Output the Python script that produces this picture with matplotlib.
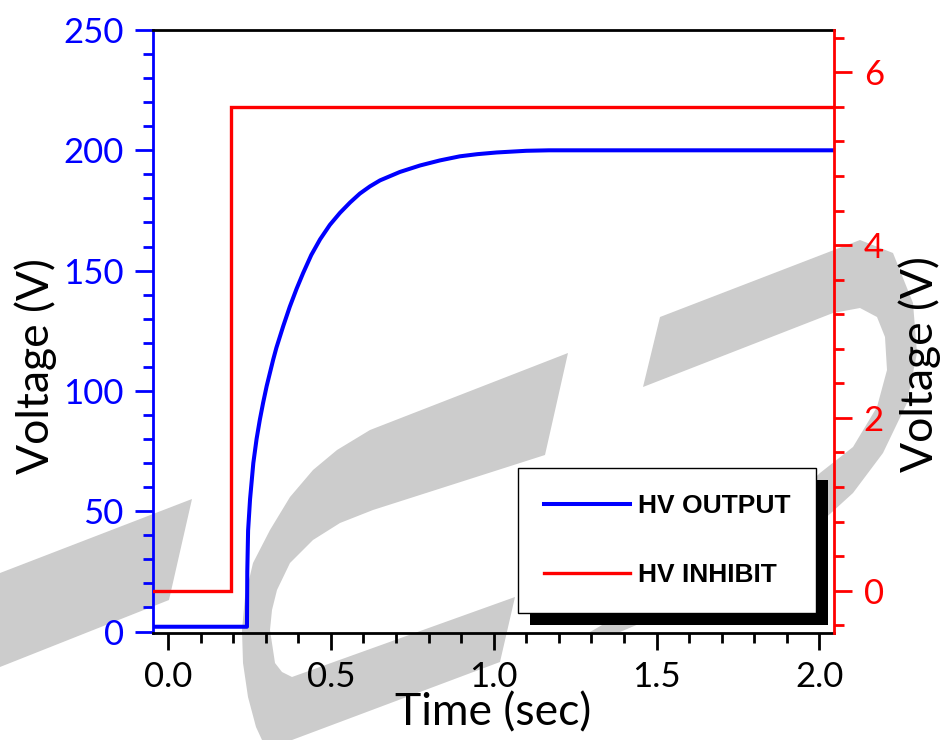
import matplotlib
matplotlib.use("Agg")
import matplotlib.pyplot as plt
from matplotlib.patches import Polygon, Rectangle
from matplotlib.ticker import MultipleLocator, FormatStrFormatter
from matplotlib.transforms import IdentityTransform

plt.rcParams['font.family'] = ['Lato', 'DejaVu Sans']
plt.rcParams['font.weight'] = 'normal'

# ---- data ----
hv_output_t = [-0.046, 0.2425, 0.2435, 0.246, 0.252, 0.262, 0.272, 0.282, 0.292,
               0.303, 0.323, 0.333, 0.354, 0.374, 0.395, 0.415, 0.440, 0.467,
               0.497, 0.528, 0.559, 0.589, 0.620, 0.651, 0.712, 0.774, 0.835,
               0.896, 0.95, 1.009, 1.10, 1.17, 2.045]
hv_output_v = [2, 2, 25, 42, 55, 70, 80, 88, 95,
               102, 113, 118, 127, 135, 142.5, 149, 156.5, 163,
               169, 174, 178.3, 182, 185, 187.5, 191, 193.7, 195.8,
               197.5, 198.4, 199.1, 199.8, 200, 200]

hv_inhibit_t = [-0.046, 0.1925, 0.1925, 2.045]
hv_inhibit_v = [0.0, 0.0, 5.6, 5.6]

x_ticks = [0.0, 0.5, 1.0, 1.5, 2.0]
left_ticks = [0, 50, 100, 150, 200, 250]
right_ticks = [0, 2, 4, 6]

W, H = 942, 740
fig = plt.figure(figsize=(W / 100, H / 100), dpi=100)
fig.patch.set_facecolor('white')

# ---- background watermark (decoration, in pixel coordinates) ----
bg = fig.add_axes([0, 0, 1, 1], zorder=-1)
bg.set_xlim(0, W)
bg.set_ylim(H, 0)
bg.axis('off')
gray = '#cccccc'
wm_left = [(0, 573), (192, 499), (169, 600), (0, 667)]
wm_c = [(568, 353), (370, 430), (337, 450), (313, 470), (290, 497), (270, 530),
        (253, 563), (245, 597), (242, 630), (243, 663), (248, 697), (256, 727),
        (262, 740), (292, 740), (500, 662), (515, 597), (292, 677), (282, 672),
        (275, 663), (270, 630), (272, 610), (277, 590), (290, 563), (313, 540),
        (340, 523), (373, 510), (545, 455)]
wm_d = [(643, 387), (660, 317), (860, 240), (893, 253), (913, 303), (917, 353),
        (907, 403), (883, 453), (853, 493), (820, 523), (770, 560), (700, 598),
        (620, 632), (590, 632), (680, 580), (760, 530), (820, 473), (853, 447),
        (877, 407), (887, 370), (885, 337), (877, 317), (860, 308), (833, 313)]
for pts in (wm_left, wm_c, wm_d):
    bg.add_patch(Polygon(pts, closed=True, facecolor=gray, edgecolor='none'))

# ---- main axes ----
L, R, T, B = 153, 834, 30, 633
ax = fig.add_axes([L / W, 1 - B / H, (R - L) / W, (B - T) / H])
ax.patch.set_visible(False)
ax2 = ax.twinx()
ax2.patch.set_visible(False)

blue = '#0000ff'
red = '#ff0000'

l1, = ax.plot(hv_output_t, hv_output_v, color=blue, lw=2.9, solid_joinstyle='round',
              label='HV OUTPUT', zorder=3)
l2, = ax2.plot(hv_inhibit_t, hv_inhibit_v, color=red, lw=2.4, solid_joinstyle='miter',
               label='HV INHIBIT', zorder=3)

ax.set_xlim(-0.046, 2.045)
ax.set_ylim(-0.6, 250)
ax2.set_ylim(-0.49, 6.49)

# spines
sw = 2.0
for a in (ax, ax2):
    for s in a.spines.values():
        s.set_linewidth(sw)
ax.spines['left'].set_color(blue)
ax.spines['right'].set_visible(False)
ax.spines['top'].set_color('black')
ax.spines['bottom'].set_color('black')
ax2.spines['right'].set_color(red)
ax2.spines['left'].set_visible(False)
ax2.spines['top'].set_visible(False)
ax2.spines['bottom'].set_visible(False)

# ticks
ax.set_xticks(x_ticks)
ax.xaxis.set_major_formatter(FormatStrFormatter('%.1f'))
ax.xaxis.set_minor_locator(MultipleLocator(0.1))
ax.set_yticks(left_ticks)
ax.yaxis.set_minor_locator(MultipleLocator(10))
ax2.set_yticks(right_ticks)
ax2.yaxis.set_minor_locator(MultipleLocator(0.4))

tick_fs = 25
ax.tick_params(axis='x', which='major', direction='out', length=12.5, width=2,
               color='black', labelcolor='black', labelsize=tick_fs, pad=8, top=False)
ax.tick_params(axis='x', which='minor', direction='out', length=7, width=2,
               color='black', top=False)
ax.tick_params(axis='y', which='major', direction='out', length=13, width=2,
               color=blue, labelcolor=blue, labelsize=tick_fs, pad=8, right=False)
ax.tick_params(axis='y', which='minor', direction='out', length=7.2, width=2,
               color=blue, right=False)
ax2.tick_params(axis='y', which='major', direction='out', length=13, width=2,
                color=red, labelcolor=red, labelsize=tick_fs, pad=8.5, left=False)
ax2.tick_params(axis='y', which='minor', direction='out', length=7.2, width=2,
                color=red, left=False)

# labels
lab_fs = 32
ax.set_xlabel('Time (sec)', fontsize=lab_fs, color='black')
ax.xaxis.set_label_coords(0.5, (B - 692) / (B - T))
ax.set_ylabel('Voltage (V)', fontsize=lab_fs, color='black')
ax.yaxis.set_label_coords((57 - L) / (R - L), (B - 366) / (B - T))
ax2.set_ylabel('Voltage (V)', fontsize=lab_fs, color='black', rotation=90)
ax2.yaxis.set_label_coords((898 - L) / (R - L), (B - 364) / (B - T))

# legend
leg = ax2.legend([l1, l2], ['HV OUTPUT', 'HV INHIBIT'],
                 loc='lower right',
                 bbox_to_anchor=((816 - L) / (R - L), (B - 613) / (B - T)),
                 borderaxespad=0, fancybox=False, framealpha=1, edgecolor='black',
                 prop={'family': ['Liberation Sans', 'DejaVu Sans'],
                       'size': 19, 'weight': 'bold'},
                 handlelength=3.25, handletextpad=0.3, labelspacing=1.72,
                 borderpad=0.98)
leg.get_frame().set_linewidth(1.0)
leg.set_zorder(10)

fig.canvas.draw()
bb = leg.get_frame().get_window_extent()
shadow = Rectangle((bb.x0 + 12, bb.y0 - 12), bb.width, bb.height,
                   transform=IdentityTransform(), facecolor='black', edgecolor='none',
                   zorder=9.9, clip_on=False)
ax2.add_artist(shadow)

fig.savefig('out.png', dpi=100, facecolor='white')
